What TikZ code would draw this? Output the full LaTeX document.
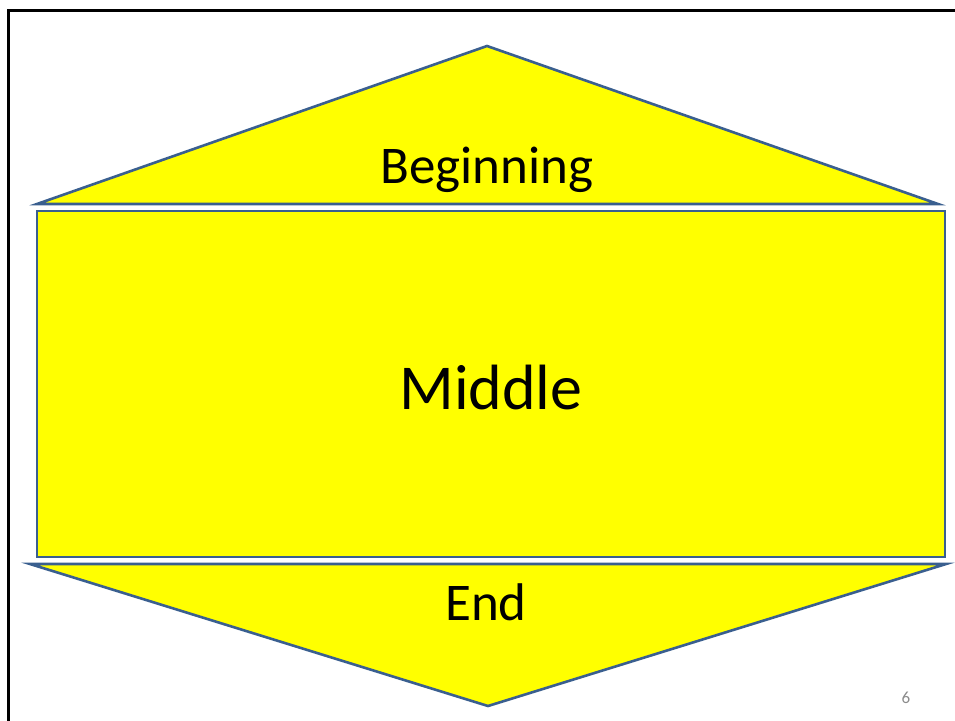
\documentclass[tikz,border=0pt]{standalone}
\usepackage{fontspec}
\setmainfont{Carlito}
\definecolor{shapefill}{HTML}{FFFF00}
\definecolor{shapeline}{HTML}{3A5F8F}
\definecolor{numgray}{HTML}{8B8B8B}
\begin{document}
\begin{tikzpicture}[x=1pt,y=-1pt,
  part/.style={fill=shapefill,draw=shapeline,line width=2.6pt,line join=miter},
  label/.style={inner sep=0pt,anchor=base,text=black}]
\useasboundingbox (0,0) rectangle (955,720);
\fill[white] (0,0) rectangle (955,720);
\draw[black,line width=2.6pt] (8.7,725) -- (8.7,10.7) -- (960,10.7);
% top triangle
\draw[part] (487,46) -- (938,204) -- (37,204) -- cycle;
% middle rectangle
\draw[part] (37,211) rectangle (945,557);
% bottom triangle
\draw[part] (30,564) -- (946,564) -- (488,706) -- cycle;
\node[label,font=\fontsize{53}{64}\selectfont] (beg) at (487,183) {Beginning};
\node[label,font=\fontsize{64}{76}\selectfont] (mid) at (491,409) {Middle};
\node[label,font=\fontsize{53}{64}\selectfont] (end) at (486,620) {End};
\node[label,font=\fontsize{17}{20}\selectfont,text=numgray] (num) at (906,703) {6};
\end{tikzpicture}
\end{document}
